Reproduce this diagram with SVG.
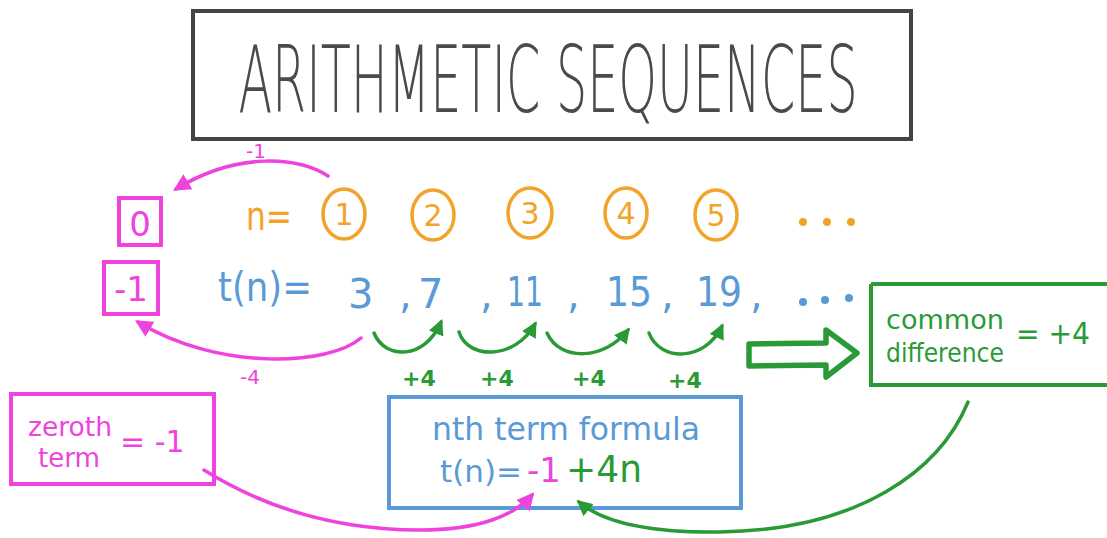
<svg xmlns="http://www.w3.org/2000/svg" width="1107" height="538" viewBox="0 0 1107 538">
<style>
.t{font-family:"DejaVu Sans","Liberation Sans",sans-serif}
.mg{fill:#ee44dd}.or{fill:#f2a42a}.bl{fill:#5a9ad6}.gr{fill:#2a9a36}
.box{fill:none;stroke-width:4}
.cm{stroke:#ee44dd}.cg{stroke:#2a9a36}.cb{stroke:#5a9ad6}.co{stroke:#f2a42a}
.ln{fill:none;stroke-width:3.5;stroke-linecap:round}
</style>
<defs>
<marker id="am" viewBox="0 0 10 10" refX="8" refY="5" markerWidth="5" markerHeight="5" orient="auto" markerUnits="strokeWidth"><path d="M0,0 L10,5 L0,10 z" fill="#ee44dd"/></marker>
<marker id="ag" viewBox="0 0 10 10" refX="8" refY="5" markerWidth="4.5" markerHeight="4.5" orient="auto" markerUnits="strokeWidth"><path d="M0,0 L10,5 L0,10 z" fill="#2a9a36"/></marker>
</defs>
<rect width="1107" height="538" fill="#fff"/>

<g id="title">
<rect x="193" y="11" width="718" height="128" fill="none" stroke="#444" stroke-width="4"/>
<text class="t" transform="translate(548,112) scale(0.535,1)" x="0" y="0" font-size="92" font-weight="200" fill="#4a4a4a" text-anchor="middle">ARITHMETIC SEQUENCES</text>
</g>

<g id="n-row">
<text class="t or" x="246" y="230" font-size="40" textLength="46" lengthAdjust="spacingAndGlyphs">n=</text>
<g fill="none" stroke="#f2a42a" stroke-width="3.5">
<ellipse cx="344" cy="214" rx="21" ry="25"/>
<ellipse cx="433" cy="215" rx="21" ry="25"/>
<ellipse cx="530" cy="213" rx="22" ry="25"/>
<ellipse cx="626" cy="213" rx="21" ry="25"/>
<ellipse cx="716" cy="215" rx="21" ry="25"/>
</g>
<g class="t or" font-size="30" text-anchor="middle">
<text x="344" y="225">1</text><text x="433" y="226">2</text><text x="530" y="224">3</text><text x="626" y="224">4</text><text x="716" y="226">5</text>
</g>
<circle class="or" cx="803" cy="222" r="4"/><circle class="or" cx="827" cy="222" r="4"/><circle class="or" cx="851" cy="222" r="4"/>
</g>

<g id="t-row">
<text class="t bl" x="218" y="301" font-size="40" textLength="94" lengthAdjust="spacingAndGlyphs">t(n)=</text>
<g class="t bl" font-size="40">
<text x="348" y="308">3</text>
<text x="399" y="308">,</text><text x="418" y="308">7</text>
<text x="480" y="308">,</text><text x="507" y="306" textLength="36" lengthAdjust="spacingAndGlyphs">11</text>
<text x="567" y="308">,</text><text x="606" y="306" textLength="46" lengthAdjust="spacingAndGlyphs">15</text>
<text x="661" y="308">,</text><text x="696" y="306" textLength="46" lengthAdjust="spacingAndGlyphs">19</text>
<text x="750" y="308">,</text>
</g>
<circle class="bl" cx="803" cy="302" r="4"/><circle class="bl" cx="825" cy="300" r="4"/><circle class="bl" cx="849" cy="298" r="4"/>
</g>

<g id="zero-boxes">
<rect class="box cm" x="119" y="198" width="42" height="47"/>
<text class="t mg" x="140" y="236" font-size="34" text-anchor="middle">0</text>
<rect class="box cm" x="104" y="262" width="54" height="52"/>
<text class="t mg" x="131" y="301" font-size="34" text-anchor="middle">-1</text>
</g>

<g id="zeroth">
<rect class="box cm" x="11" y="394" width="203" height="90"/>
<text class="t mg" x="28" y="436" font-size="26" textLength="84" lengthAdjust="spacingAndGlyphs">zeroth</text>
<text class="t mg" x="38" y="467" font-size="26" textLength="62" lengthAdjust="spacingAndGlyphs">term</text>
<text class="t mg" x="120" y="452" font-size="30">= -1</text>
</g>

<g id="formula">
<rect class="box cb" x="389" y="397" width="352" height="111"/>
<text class="t bl" x="432" y="440" font-size="32" textLength="268" lengthAdjust="spacingAndGlyphs">nth term formula</text>
<text class="t bl" x="440" y="482" font-size="31">t(n)=</text>
<text class="t mg" x="527" y="482" font-size="34">-1</text>
<text class="t gr" x="566" y="482" font-size="38" textLength="76" lengthAdjust="spacingAndGlyphs">+4n</text>
</g>

<g id="common">
<path class="box cg" d="M871,284 L1110,284 M871,284 L871,385 L1110,385"/>
<text class="t gr" x="886" y="329" font-size="27" textLength="118" lengthAdjust="spacingAndGlyphs">common</text>
<text class="t gr" x="886" y="362" font-size="27" textLength="118" lengthAdjust="spacingAndGlyphs">difference</text>
<text class="t gr" x="1016" y="344" font-size="30" textLength="74" lengthAdjust="spacingAndGlyphs">= +4</text>
</g>

<g id="connectors">
<path class="ln cm" d="M328,176 C300,158 240,150 176,189" marker-end="url(#am)"/>
<text class="t mg" x="246" y="158" font-size="20">-1</text>
<path class="ln cm" d="M361,338 C330,365 220,372 138,322" marker-end="url(#am)"/>
<text class="t mg" x="240" y="384" font-size="20">-4</text>

<path class="ln cg" d="M374,333 C385,360 425,360 441,322" marker-end="url(#ag)"/>
<path class="ln cg" d="M459,332 C468,360 515,360 535,324" marker-end="url(#ag)"/>
<path class="ln cg" d="M547,333 C560,362 605,360 628,330" marker-end="url(#ag)"/>
<path class="ln cg" d="M649,333 C660,362 705,362 722,326" marker-end="url(#ag)"/>
<g class="t gr" font-size="22" font-weight="bold">
<text x="402" y="386">+4</text><text x="480" y="386">+4</text><text x="572" y="386">+4</text><text x="668" y="388">+4</text>
</g>
<path d="M749,344 L826,343 L826,330 L857,353 L826,377 L826,365 L749,366 Z" fill="none" stroke="#2a9a36" stroke-width="5.5" stroke-linejoin="round"/>

<path class="ln cm" d="M204,470 C260,505 330,530 420,530 C480,530 515,515 532,495" stroke-width="4" marker-end="url(#am)"/>
<path class="ln cg" d="M968,402 C940,470 860,530 720,532 C640,533 600,520 579,502" marker-end="url(#ag)"/>
</g>
</svg>
